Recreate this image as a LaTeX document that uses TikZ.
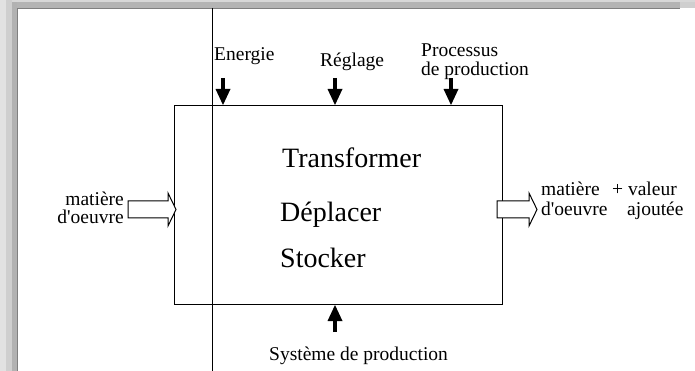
\documentclass[tikz,border=0pt]{standalone}
\usepackage{fontspec}
\setmainfont{Liberation Serif}
\newfontfamily\timesf{Liberation Serif}
\usetikzlibrary{arrows.meta}
\definecolor{shA}{HTML}{E2E2E2}
\definecolor{shB}{HTML}{CFCFCF}
\definecolor{shC}{HTML}{B2B2B2}
\definecolor{shT}{HTML}{D8D8D8}
\definecolor{shU}{HTML}{B4B4B4}
\tikzset{
  lbl/.style={font=\timesf\fontsize{19.5pt}{19pt}\selectfont, inner sep=0pt, align=left},
  big/.style={font=\timesf\fontsize{28pt}{30pt}\selectfont, inner sep=0pt},
  blockarrow/.style={line width=4.5pt, -{Triangle[length=16pt,width=15pt,line width=0pt]}},
  hollowarrow/.style={draw=black, fill=white, line width=1pt, line join=miter},
  thin/.style={line width=1pt}
}
\begin{document}
\begin{tikzpicture}[x=1pt,y=-1pt]
\useasboundingbox (0,0) rectangle (695,371);
\fill[white] (0,0) rectangle (695,371);
% shadow frame
\fill[shA] (0,0) rectangle (6,371);
\fill[shB] (6,0) rectangle (12,371);
\fill[shC] (12,2) rectangle (17,371);
\fill[shT] (12,0) rectangle (695,2);
\fill[shU] (17,2) rectangle (680,8);
\fill[shB] (680,2) rectangle (695,8);
\draw[black!50, line width=0.6pt] (17,371) -- (17,8) -- (680,8);
% vertical line
\coordinate (vtop) at (212.5,8);
\coordinate (vbot) at (212.5,371);
\draw[thin] (vtop) -- (vbot);
% main box
\node[draw, thin, minimum width=328pt, minimum height=199pt, inner sep=0pt, anchor=north west] (box) at (174,105) {};
% texts inside
\node[big, anchor=base west] (t1) at (282,168) {Transformer};
\node[big, anchor=base west] (t2) at (280,222) {Déplacer};
\node[big, anchor=base west] (t3) at (280,267) {Stocker};
% top labels
\node[lbl, anchor=base west] (energie) at (214,61) {Energie};
\node[lbl, anchor=base west] (reglage) at (320,67) {Réglage};
\node[lbl, anchor=base west] (proc1) at (421,57) {Processus};
\node[lbl, anchor=base west] (proc2) at (421,76) {de production};
% top arrows
\coordinate (aE) at (223,78);
\coordinate (aR) at (335,78);
\coordinate (aP) at (451,78);
\draw[blockarrow] (aE) -- (aE |- box.north);
\draw[blockarrow] (aR) -- (aR |- box.north);
\draw[blockarrow] (aP) -- (aP |- box.north);
% bottom
\node[lbl, anchor=base west] (sys) at (269,360) {Système de production};
\coordinate (aS) at (335,332);
\draw[blockarrow] (aS) -- (aS |- box.south);
% left input
\node[lbl, anchor=base east] (in1) at (124,206) {matière};
\node[lbl, anchor=base east] (in2) at (124,224) {d\textquotesingle oeuvre};
\draw[hollowarrow] (128,201) -- (168,201) -- (168,193) -- (176,209.5) -- (168,226) -- (168,218) -- (128,218) -- cycle;
% right output
\draw[hollowarrow] (497,201) -- (529,201) -- (529,193) -- (537,209.5) -- (529,226) -- (529,218) -- (497,218) -- cycle;
\node[lbl, anchor=base west] (out1) at (541,196) {matière};
\node[lbl, anchor=base west] (out2) at (612,196) {+ valeur};
\node[lbl, anchor=base west] (out3) at (541,215) {d\textquotesingle oeuvre};
\node[lbl, anchor=base west] (out4) at (627,215) {ajoutée};
\end{tikzpicture}
\end{document}
